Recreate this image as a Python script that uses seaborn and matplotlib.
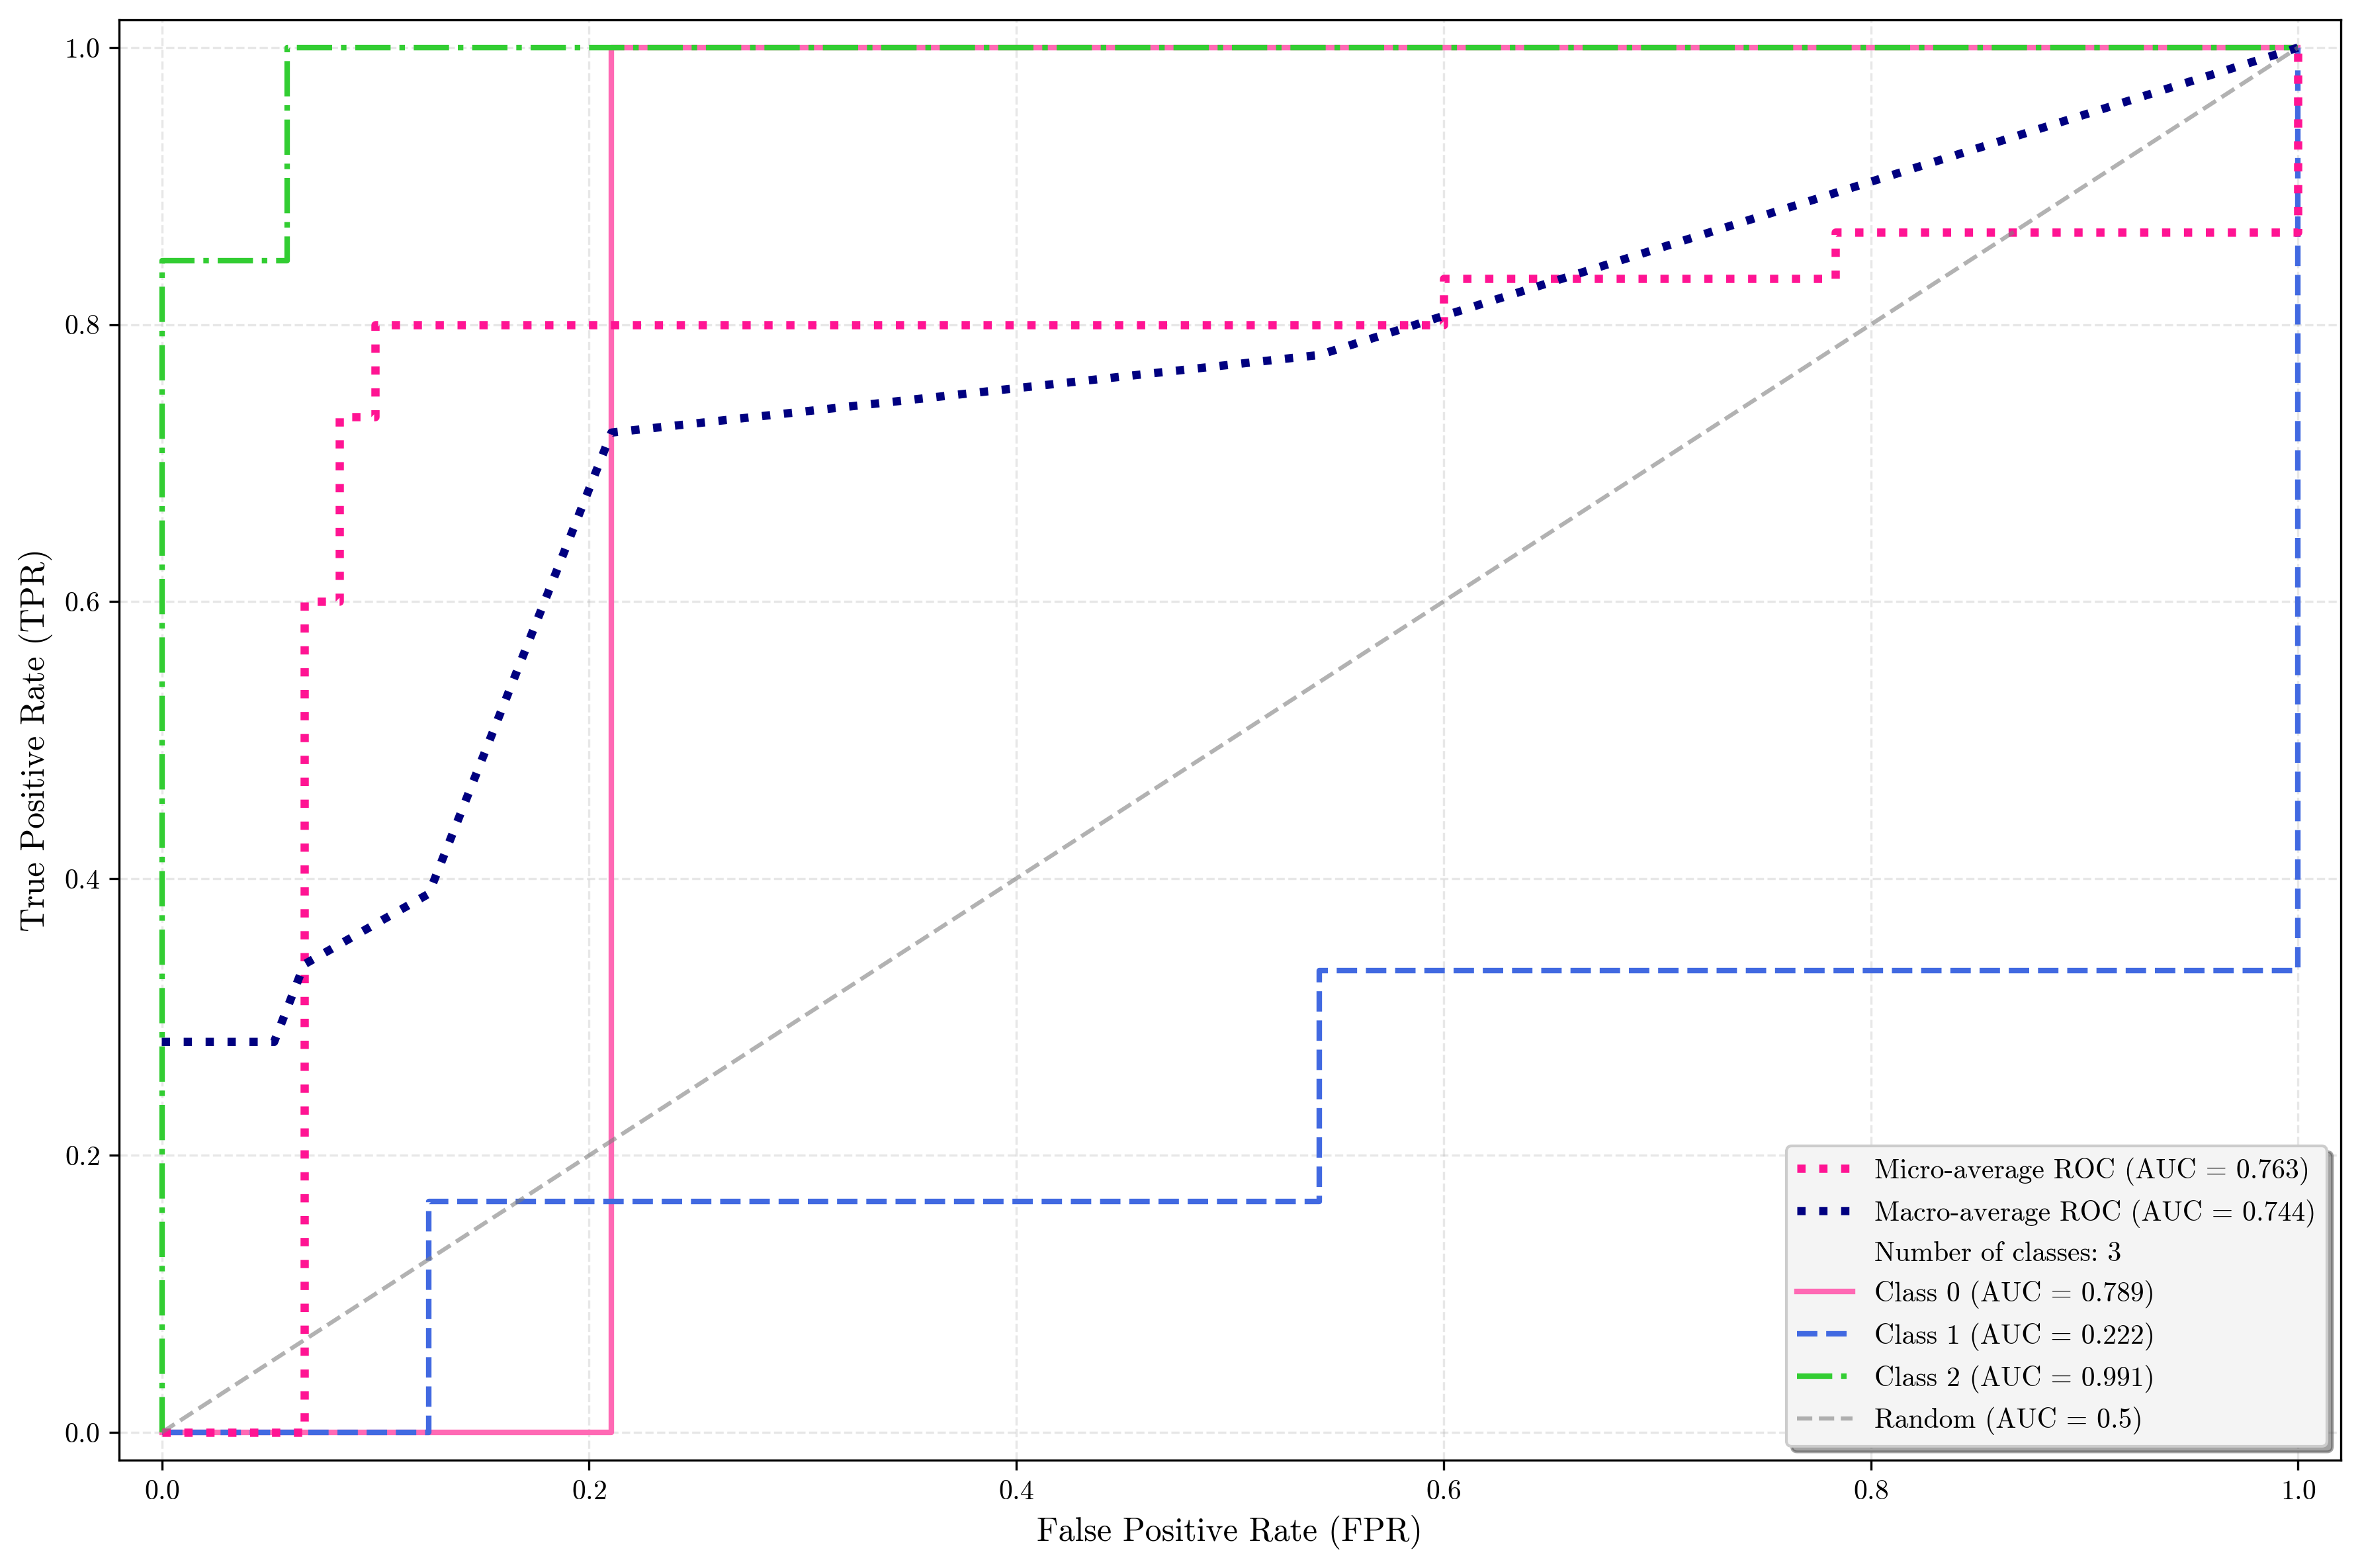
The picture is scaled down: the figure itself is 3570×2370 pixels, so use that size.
import matplotlib
matplotlib.use("Agg")
import matplotlib.pyplot as plt
import seaborn as sns

# ROC points
micro_fpr = [0, 0.0667, 0.0667, 0.0833, 0.0833, 0.1, 0.1, 0.6, 0.6, 0.7833, 0.7833, 1.0, 1.0]
micro_tpr = [0, 0, 0.6, 0.6, 0.7333, 0.7333, 0.8, 0.8, 0.8333, 0.8333, 0.8667, 0.8667, 1.0]

macro_fpr = [0, 0.0526, 0.0667, 0.125, 0.2105, 0.5417, 1.0]
macro_tpr = [0.282, 0.282, 0.338, 0.389, 0.722, 0.778, 1.0]

class0_fpr = [0, 0.2105, 0.2105, 1.0]
class0_tpr = [0, 0, 1.0, 1.0]

class1_fpr = [0, 0.125, 0.125, 0.5417, 0.5417, 1.0, 1.0]
class1_tpr = [0, 0, 0.1667, 0.1667, 0.3333, 0.3333, 1.0]

class2_fpr = [0, 0, 0.0588, 0.0588, 1.0]
class2_tpr = [0, 0.846, 0.846, 1.0, 1.0]

auc_micro = 0.763
auc_macro = 0.744
class_auc = [0.789, 0.222, 0.991]
n_classes = 3

plt.rcParams['font.family'] = 'cmr10'
plt.rcParams['mathtext.fontset'] = 'cm'
plt.rcParams['axes.formatter.use_mathtext'] = True
plt.rcParams['axes.unicode_minus'] = False

fig, ax = plt.subplots(figsize=(11.9, 7.9), dpi=300)

sns.lineplot(x=class0_fpr, y=class0_tpr, sort=False, estimator=None, ax=ax,
             color='hotpink', linestyle='-', linewidth=2,
             label=f'Class 0 (AUC = {class_auc[0]:.3f})')
sns.lineplot(x=class1_fpr, y=class1_tpr, sort=False, estimator=None, ax=ax,
             color='royalblue', linestyle='--', linewidth=2,
             label=f'Class 1 (AUC = {class_auc[1]:.3f})')
sns.lineplot(x=class2_fpr, y=class2_tpr, sort=False, estimator=None, ax=ax,
             color='limegreen', linestyle='-.', linewidth=2,
             label=f'Class 2 (AUC = {class_auc[2]:.3f})')
sns.lineplot(x=micro_fpr, y=micro_tpr, sort=False, estimator=None, ax=ax,
             color='deeppink', linestyle=':', linewidth=3,
             label=f'Micro-average ROC (AUC = {auc_micro:.3f})')
sns.lineplot(x=macro_fpr, y=macro_tpr, sort=False, estimator=None, ax=ax,
             color='navy', linestyle=':', linewidth=3,
             label=f'Macro-average ROC (AUC = {auc_macro:.3f})')
ax.plot([], [], ' ', label=f'Number of classes: {n_classes}')
sns.lineplot(x=[0, 1], y=[0, 1], ax=ax, color='gray', linestyle='--',
             linewidth=1.5, alpha=0.6, label='Random (AUC = 0.5)')

handles, labels = ax.get_legend_handles_labels()
order = [3, 4, 5, 0, 1, 2, 6]
ax.legend([handles[i] for i in order], [labels[i] for i in order],
          loc='lower right', fontsize=10, shadow=True, fancybox=True,
          facecolor='#f4f4f4', framealpha=1.0)

ax.margins(0.02)
ax.set_xlabel('False Positive Rate (FPR)', fontsize=12)
ax.set_ylabel('True Positive Rate (TPR)', fontsize=12)
ax.tick_params(labelsize=10)
ax.grid(True, linestyle='--', alpha=0.3)

fig.subplots_adjust(left=0.0504, right=0.991, bottom=0.0688, top=0.9873)
fig.savefig('out.png', dpi=300)
